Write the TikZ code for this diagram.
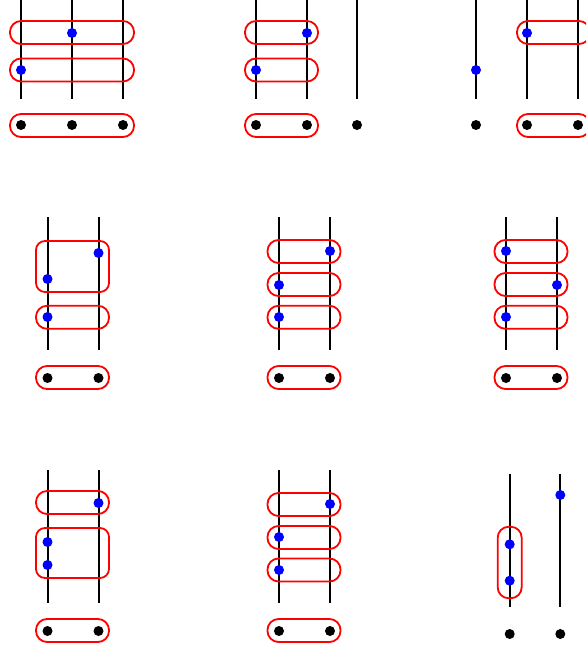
\documentclass[tikz,border=0pt]{standalone}
\begin{document}
\begin{tikzpicture}[x=1pt,y=-1pt,
  wire/.style={line width=2pt,black},
  bdot/.style={circle,fill=blue,inner sep=0pt,minimum size=10pt},
  kdot/.style={circle,fill=black,inner sep=0pt,minimum size=10pt},
  grp/.style={draw=red,line width=1.8pt,rectangle,rounded corners=11pt,inner sep=0pt},
  wide/.style={minimum width=124pt,minimum height=23pt},
  pair/.style={minimum width=73pt,minimum height=23pt},
  tall/.style={minimum width=73pt,minimum height=51pt,rounded corners=9pt}]
\useasboundingbox (0,0) rectangle (586,650);
\clip (0,0) rectangle (586,650);
% ---------- Panel A ----------
\foreach \n/\x in {1/21,2/72,3/123}{
  \coordinate (at\n) at (\x,-2); \coordinate (ab\n) at (\x,99);
  \draw[wire] (at\n) -- (ab\n);}
\node[grp,wide] (ag1) at (72,32.5) {};
\node[grp,wide] (ag2) at (72,70) {};
\node[grp,wide] (ag3) at (72,125.5) {};
\node[bdot] (ad1) at (72,33) {};
\node[bdot] (ad2) at (21,70) {};
\node[kdot] (ak1) at (21,125) {};
\node[kdot] (ak2) at (72,125) {};
\node[kdot] (ak3) at (123,125) {};
% ---------- Panel B ----------
\foreach \n/\x in {1/256,2/307,3/357}{
  \coordinate (bt\n) at (\x,-2); \coordinate (bb\n) at (\x,99);
  \draw[wire] (bt\n) -- (bb\n);}
\node[grp,pair] (bg1) at (281.5,32.5) {};
\node[grp,pair] (bg2) at (281.5,70) {};
\node[grp,pair] (bg3) at (281.5,125.5) {};
\node[bdot] (bd1) at (307,33) {};
\node[bdot] (bd2) at (256,70) {};
\node[kdot] (bk1) at (256,125) {};
\node[kdot] (bk2) at (307,125) {};
\node[kdot] (bk3) at (357,125) {};
% ---------- Panel C ----------
\foreach \n/\x in {1/476,2/527,3/578}{
  \coordinate (ct\n) at (\x,-2); \coordinate (cb\n) at (\x,99);
  \draw[wire] (ct\n) -- (cb\n);}
\node[grp,pair] (cg1) at (553.5,32.5) {};
\node[grp,pair] (cg3) at (553.5,125.5) {};
\node[bdot] (cd1) at (527,33) {};
\node[bdot] (cd2) at (476,70) {};
\node[kdot] (ck1) at (476,125) {};
\node[kdot] (ck2) at (527,125) {};
\node[kdot] (ck3) at (578,125) {};
% ---------- Panel D ----------
\foreach \n/\x in {1/47.5,2/98.5}{
  \coordinate (dt\n) at (\x,217); \coordinate (db\n) at (\x,350);
  \draw[wire] (dt\n) -- (db\n);}
\node[grp,tall] (dg1) at (72.5,266.5) {};
\node[grp,pair] (dg2) at (72.5,317.3) {};
\node[grp,pair] (dg3) at (72.5,377.5) {};
\node[bdot] (dd1) at (98.5,253) {};
\node[bdot] (dd2) at (47.5,279) {};
\node[bdot] (dd3) at (47.5,317) {};
\node[kdot] (dk1) at (47.5,378) {};
\node[kdot] (dk2) at (98.5,378) {};
% ---------- Panel E ----------
\foreach \n/\x in {1/279,2/330}{
  \coordinate (et\n) at (\x,217); \coordinate (eb\n) at (\x,350);
  \draw[wire] (et\n) -- (eb\n);}
\node[grp,pair] (eg1) at (304,251.5) {};
\node[grp,pair] (eg2) at (304,284.5) {};
\node[grp,pair] (eg3) at (304,317.3) {};
\node[grp,pair] (eg4) at (304,377.5) {};
\node[bdot] (ed1) at (330,251) {};
\node[bdot] (ed2) at (279,285) {};
\node[bdot] (ed3) at (279,317) {};
\node[kdot] (ek1) at (279,378) {};
\node[kdot] (ek2) at (330,378) {};
% ---------- Panel F ----------
\foreach \n/\x in {1/506,2/557}{
  \coordinate (ft\n) at (\x,217); \coordinate (fb\n) at (\x,350);
  \draw[wire] (ft\n) -- (fb\n);}
\node[grp,pair] (fg1) at (531,251.5) {};
\node[grp,pair] (fg2) at (531,284.5) {};
\node[grp,pair] (fg3) at (531,317.3) {};
\node[grp,pair] (fg4) at (531,377.5) {};
\node[bdot] (fd1) at (506,251) {};
\node[bdot] (fd2) at (557,285) {};
\node[bdot] (fd3) at (506,317) {};
\node[kdot] (fk1) at (506,378) {};
\node[kdot] (fk2) at (557,378) {};
% ---------- Panel G ----------
\foreach \n/\x in {1/47.5,2/98.5}{
  \coordinate (gt\n) at (\x,470); \coordinate (gb\n) at (\x,603);
  \draw[wire] (gt\n) -- (gb\n);}
\node[grp,pair] (gg1) at (72.5,502.5) {};
\node[grp,tall,minimum height=50pt] (gg2) at (72.5,553) {};
\node[grp,pair] (gg3) at (72.5,630.5) {};
\node[bdot] (gd1) at (98.5,503) {};
\node[bdot] (gd2) at (47.5,542) {};
\node[bdot] (gd3) at (47.5,565) {};
\node[kdot] (gk1) at (47.5,631) {};
\node[kdot] (gk2) at (98.5,631) {};
% ---------- Panel H ----------
\foreach \n/\x in {1/279,2/330}{
  \coordinate (ht\n) at (\x,470); \coordinate (hb\n) at (\x,603);
  \draw[wire] (ht\n) -- (hb\n);}
\node[grp,pair] (hg1) at (304,504.5) {};
\node[grp,pair] (hg2) at (304,537.5) {};
\node[grp,pair] (hg3) at (304,570) {};
\node[grp,pair] (hg4) at (304,630.5) {};
\node[bdot] (hd1) at (330,504) {};
\node[bdot] (hd2) at (279,537) {};
\node[bdot] (hd3) at (279,570) {};
\node[kdot] (hk1) at (279,631) {};
\node[kdot] (hk2) at (330,631) {};
% ---------- Panel I ----------
\foreach \n/\x in {1/509.7,2/560.3}{
  \coordinate (it\n) at (\x,473.5) ; \coordinate (ib\n) at (\x,606.7);
  \draw[wire] (it\n) -- (ib\n);}
\node[grp,minimum width=24pt,minimum height=71.5pt] (ig1) at (509.7,562.5) {};
\node[bdot] (id1) at (560.3,495) {};
\node[bdot] (id2) at (509.7,544.3) {};
\node[bdot] (id3) at (509.7,580.7) {};
\node[kdot] (ik1) at (509.7,634) {};
\node[kdot] (ik2) at (560.3,634) {};
\end{tikzpicture}
\end{document}
